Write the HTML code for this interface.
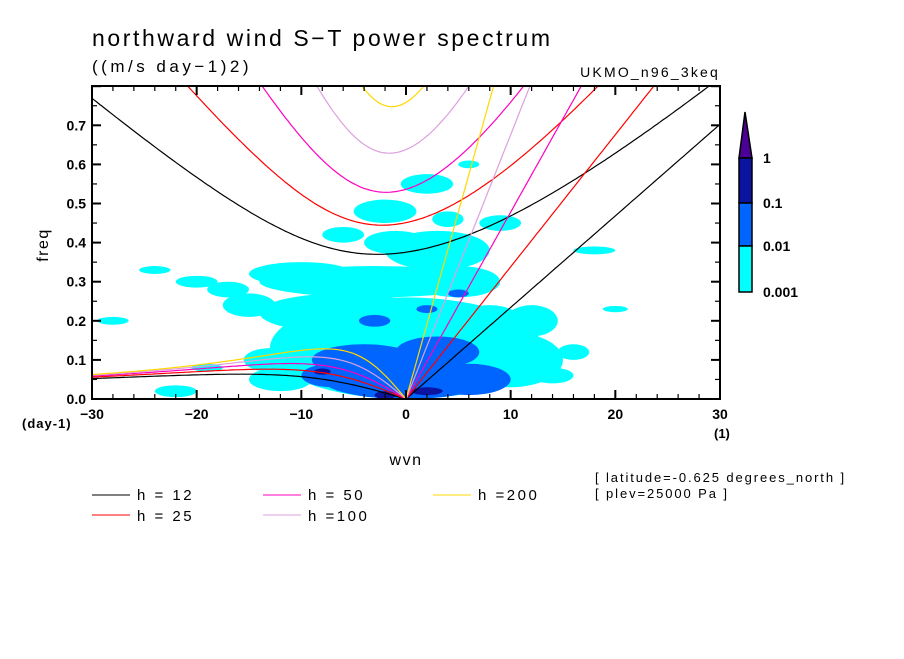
<!DOCTYPE html>
<html><head><meta charset="utf-8"><style>
body{margin:0;background:#fff;}
svg{font-family:"Liberation Sans",sans-serif;}
</style></head><body>
<svg id="chart" width="904" height="654" viewBox="0 0 904 654" xmlns="http://www.w3.org/2000/svg">
<rect width="904" height="654" fill="#fff"/>
<text x="92" y="46" font-size="23" letter-spacing="2.6" fill="#000">northward wind S−T power spectrum</text>
<text x="92" y="72" font-size="17" letter-spacing="3.5" fill="#000">((m/s day−1)2)</text>
<text x="720" y="77" font-size="14" letter-spacing="2.2" text-anchor="end" fill="#000">UKMO_n96_3keq</text>
<defs><clipPath id="pc"><rect x="92" y="86" width="628" height="313"/></clipPath></defs>
<g id="blobs" clip-path="url(#pc)"></g>
<g id="curves" clip-path="url(#pc)"></g>
<rect x="92" y="86" width="628" height="313" fill="none" stroke="#000" stroke-width="2"/>
<g id="ticks"></g>
<text x="406" y="465" font-size="16" letter-spacing="1.5" text-anchor="middle">wvn</text>
<text x="48" y="245" font-size="16" letter-spacing="1.5" text-anchor="middle" transform="rotate(-90 48 245)">freq</text>
<text x="22" y="428" font-size="13" font-weight="bold" letter-spacing="1">(day-1)</text>
<text x="714" y="438" font-size="13" font-weight="bold">(1)</text>
<g>
<polygon points="745,112 739,158 752,158" fill="#4b0096" stroke="#000" stroke-width="1.5"/>
<rect x="739" y="158" width="13" height="45" fill="#0a14a0" stroke="#000" stroke-width="1.5"/>
<rect x="739" y="203" width="13" height="43" fill="#0064ff" stroke="#000" stroke-width="1.5"/>
<rect x="739" y="246" width="13" height="46" fill="#00ffff" stroke="#000" stroke-width="1.5"/>
<text x="763" y="163" font-size="14" font-weight="bold">1</text>
<text x="763" y="208" font-size="14" font-weight="bold">0.1</text>
<text x="763" y="251" font-size="14" font-weight="bold">0.01</text>
<text x="763" y="297" font-size="14" font-weight="bold">0.001</text>
</g>
<g font-size="15" letter-spacing="2.5">
<line x1="92" y1="495" x2="130" y2="495" stroke="#000"/><text x="137" y="500">h = 12</text>
<line x1="92" y1="515" x2="130" y2="515" stroke="#ff0000"/><text x="137" y="521">h = 25</text>
<line x1="263" y1="495" x2="301" y2="495" stroke="#ff00c0"/><text x="308" y="500">h = 50</text>
<line x1="263" y1="515" x2="301" y2="515" stroke="#dda0dd"/><text x="308" y="521">h =100</text>
<line x1="433" y1="495" x2="471" y2="495" stroke="#ffd700"/><text x="478" y="500">h =200</text>
</g>
<text x="595" y="482" font-size="13" letter-spacing="1.9">[ latitude=-0.625 degrees_north ]</text>
<text x="595" y="498" font-size="13" letter-spacing="1.9">[ plev=25000 Pa ]</text>
</svg>
<script>
const hValues=[12,25,50,100,200];
const hColors=["#000000","#ff0000","#ff00c0","#dda0dd","#ffd700"];
const xTicks=[-30,-20,-10,0,10,20,30];
const xTickLabels=["−30","−20","−10","0","10","20","30"];
const yTicks=[0,0.1,0.2,0.3,0.4,0.5,0.6,0.7];
const yTickLabels=["0.0","0.1","0.2","0.3","0.4","0.5","0.6","0.7"];
const blobK=[0,-6,-3,3,-2,2,-10,10,-20,-24,-22,-28,18,20,6,-6,9,-13,-15,12,-17,-12,14,5,-1,4,-8,8,-19,16, 0,-4,3,-3,2,5,-7,6, -2,2,-8];
const blobF=[0.13,0.22,0.3,0.38,0.48,0.55,0.32,0.1,0.3,0.33,0.02,0.2,0.38,0.23,0.6,0.42,0.45,0.1,0.24,0.2,0.28,0.05,0.06,0.3,0.4,0.46,0.16,0.2,0.08,0.12, 0.05,0.1,0.12,0.2,0.23,0.27,0.06,0.05, 0.01,0.02,0.07];
const blobRK=[13,8,11,5,3,2.5,5,5,2,1.5,2,1.5,2,1.2,1,2,2,2.5,2.5,2.5,2,3,2,4,3,1.5,3,3,1.5,1.5, 8,5,4,1.5,1,1,3,4, 1,1.5,0.8];
const blobRF=[0.13,0.05,0.04,0.05,0.03,0.025,0.03,0.07,0.015,0.01,0.015,0.01,0.01,0.008,0.01,0.02,0.02,0.03,0.03,0.04,0.02,0.03,0.02,0.04,0.03,0.02,0.03,0.04,0.01,0.02, 0.05,0.04,0.04,0.015,0.01,0.01,0.03,0.04, 0.01,0.01,0.008];
const blobLevel=[0,0,0,0,0,0,0,0,0,0,0,0,0,0,0,0,0,0,0,0,0,0,0,0,0,0,0,0,0,0, 1,1,1,1,1,1,1,1, 2,2,2];
const levelColors=["#00ffff","#0064ff","#0a14a0"];
const NS="http://www.w3.org/2000/svg";
function X(k){return 92+(k+30)*628/60;}
function Y(f){return 399-f*391;}
function sx(dk){return dk*628/60;}
function sy(df){return df*391;}
const blobs=document.getElementById('blobs');
for(let i=0;i<blobK.length;i++){
 const e=document.createElementNS(NS,'ellipse');
 
 
 e.setAttribute('cx',X(blobK[i]));e.setAttribute('cy',Y(blobF[i]));
 e.setAttribute('rx',sx(blobRK[i]));e.setAttribute('ry',sy(blobRF[i]));
 e.setAttribute('fill',levelColors[blobLevel[i]]);
 blobs.appendChild(e);
}
const beta=2.29e-11,R=6.371e6,g=9.81;
function toCpd(w){return w*86400/(2*Math.PI);}
function cubicRoot(k,c,w0){let w=w0;for(let i=0;i<60;i++){const f=w*w*w-(c*c*k*k+3*beta*c)*w-beta*c*c*k;const d=3*w*w-(c*c*k*k+3*beta*c);w-=f/d;}return w;}
const curves=document.getElementById('curves');
function addPath(pts,col,name){
 const p=document.createElementNS(NS,'path');
 
 
 p.setAttribute('d','M'+pts.map(q=>X(q[0]).toFixed(1)+','+Y(q[1]).toFixed(1)).join('L'));
 p.setAttribute('fill','none');p.setAttribute('stroke',hColors[col]);p.setAttribute('stroke-width','1.2');
 curves.appendChild(p);
}
hValues.forEach((h,i)=>{
 const c=Math.sqrt(g*h);
 const ig=[],ro=[],kv=[];
 for(let k=-30;k<=30.001;k+=0.25){
  const km=k/R;
  ig.push([k,toCpd(cubicRoot(km,c,Math.abs(c*km)+Math.sqrt(3*beta*c)*2+1e-5))]);
  if(k<=0){const w0=-beta*km/(km*km+3*beta/c);ro.push([k,toCpd(k===0?0:cubicRoot(km,c,w0))]);}
  if(k>=0)kv.push([k,toCpd(c*km)]);
 }
 addPath(ig,i,'ig-curve-h'+h);addPath(ro,i,'rossby-curve-h'+h);addPath(kv,i,'kelvin-line-h'+h);
});
const tk=document.getElementById('ticks');
function line(x1,y1,x2,y2,w){const l=document.createElementNS(NS,'line');l.setAttribute('x1',x1);l.setAttribute('y1',y1);l.setAttribute('x2',x2);l.setAttribute('y2',y2);l.setAttribute('stroke','#000');l.setAttribute('stroke-width',w);
 
 
 tk.appendChild(l);}
function txt(x,y,s,anchor,name){const t=document.createElementNS(NS,'text');t.setAttribute('x',x);t.setAttribute('y',y);t.setAttribute('font-size','14');t.setAttribute('font-weight','bold');t.setAttribute('text-anchor',anchor);t.textContent=s;
 
 
 tk.appendChild(t);}
for(let k=-30;k<=30;k+=2){const major=k%10===0;const L=major?9:5;line(X(k),399,X(k),399-L,major?2:1.2);line(X(k),86,X(k),86+L,major?2:1.2);}
for(let f=0;f<=0.8001;f+=0.05){const major=Math.round(f*100)%10===0;const L=major?9:5;line(92,Y(f),92+L,Y(f),major?2:1.2);line(720,Y(f),720-L,Y(f),major?2:1.2);}
xTicks.forEach((k,i)=>txt(X(k),419,xTickLabels[i],'middle','x-tick-label'));
yTicks.forEach((f,i)=>txt(86,Y(f)+5,yTickLabels[i],'end','y-tick-label'));
</script>
</body></html>
